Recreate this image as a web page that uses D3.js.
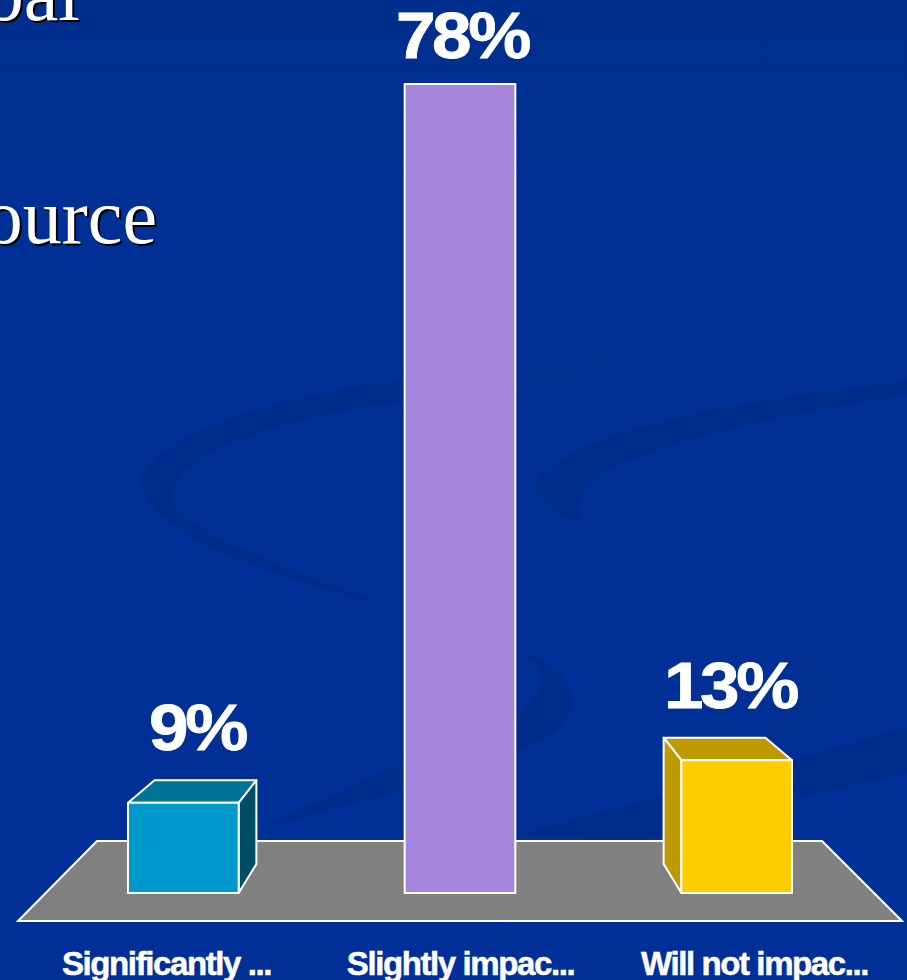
<!DOCTYPE html>
<html>
<head>
<meta charset="utf-8">
<script src="https://cdn.jsdelivr.net/npm/d3@7"></script>
<style>
  html, body { margin: 0; padding: 0; background: #00309a; overflow: hidden; }
  svg { display: block; }
  text { font-family: "Liberation Sans", Arial, sans-serif; }
  text.serif { font-family: "Liberation Serif", "Times New Roman", serif; }
</style>
</head>
<body>
<div id="chart"></div>
<script>
// ── Data ─────────────────────────────────────────────────────────
const categories = ['Significantly ...', 'Slightly impac...', 'Will not impac...'];
const values = [8.7, 78, 12.8];
const valueLabels = ['9%', '78%', '13%'];
const labelCenters = [197, 462, 730];
const frontColors = ['#0099cc', '#a686dd', '#ffcc00'];
const topColors = ['#007399', '#a686dd', '#bf9900'];
const sideColors = ['#004d66', '#a686dd', '#bf9900'];
const slideText = [
  { text: 'bal', x: 80, y: 20 },
  { text: 'ource', x: 157, y: 243 },
];

const W = 907, H = 980;
const baseY = 893, topY = 84;

const svg = d3.select('#chart').append('svg').attr('width', W).attr('height', H);

// ── Background ───────────────────────────────────────────────────
const defs = svg.append('defs');
const bg = defs.append('linearGradient').attr('id', 'bg').attr('x1', 0).attr('y1', 0).attr('x2', 0).attr('y2', 1);
bg.append('stop').attr('offset', 0).attr('stop-color', '#002e8c');
bg.append('stop').attr('offset', 0.2).attr('stop-color', '#003096');
bg.append('stop').attr('offset', 1).attr('stop-color', '#003097');
svg.append('rect').attr('width', W).attr('height', H).attr('fill', 'url(#bg)');

const swirls = [
  'M404,380 C300,392 170,425 142,475 C135,520 230,570 404,609 C300,575 190,535 172,501 C165,455 290,415 404,401 Z',
  'M907,380 C780,398 580,420 535,483 C535,500 560,515 584,526 C570,505 582,480 620,465 C690,430 820,410 907,394 Z',
  'M517,651 C560,660 580,690 570,715 C550,750 480,765 404,790 L255,830 L404,762 C460,760 530,720 543,680 C540,665 530,655 517,651 Z',
  'M907,726 C800,760 640,800 517,835 L640,841 C720,815 830,790 907,773 Z',
];
svg.append('g').selectAll('path').data(swirls).join('path')
  .attr('d', d => d)
  .attr('fill', '#002c88')
  .attr('opacity', 0.75);

// fainter shapes further back
const faintSwirls = [
  'M770,630 C815,640 845,665 842,690 C835,715 810,730 790,737 L720,750 C770,725 800,700 790,670 C780,650 770,640 770,630 Z',
  'M641,326 C600,345 550,370 517,384 L517,395 C570,385 620,360 641,326 Z',
];
svg.append('g').selectAll('path').data(faintSwirls).join('path')
  .attr('d', d => d)
  .attr('fill', '#002c88')
  .attr('opacity', 0.3);

// ── Slide text behind the chart ──────────────────────────────────
const slide = svg.append('g')
  .attr('font-size', 78)
  .attr('text-anchor', 'end');
slide.selectAll('.shadow').data(slideText).join('text')
  .attr('class', 'serif shadow')
  .attr('x', d => d.x + 2).attr('y', d => d.y + 2)
  .attr('fill', '#000')
  .text(d => d.text);
slide.selectAll('.front').data(slideText).join('text')
  .attr('class', 'serif front')
  .attr('x', d => d.x).attr('y', d => d.y)
  .attr('fill', '#fff')
  .text(d => d.text);

// ── Scales ───────────────────────────────────────────────────────
const x = d3.scaleBand().domain(categories).range([128, 792]).paddingInner(0.6);
const y = d3.scaleLinear().domain([0, 78]).range([baseY, topY]);
const labelX = d3.scalePoint().domain(categories).range([166, 754]);

// ── Floor ────────────────────────────────────────────────────────
const floor = [[18, 921], [902, 921], [822, 841], [97, 841]];
svg.append('polygon')
  .attr('points', floor.join(' '))
  .attr('fill', '#808080')
  .attr('stroke', '#fff')
  .attr('stroke-width', 2);

// ── Bars ─────────────────────────────────────────────────────────
// back corners pull in toward the middle bar and up the floor
const vanishX = 460, depth = 0.08;
const back = ([px, py]) => [px + (vanishX - px) * depth, py - (py === baseY ? 29 : 22.5)];

const bars = categories.map((c, i) => {
  const x0 = x(c), x1 = x0 + x.bandwidth(), y0 = y(values[i]);
  return { c, i, x0, x1, y0, y1: baseY };
});

const barG = svg.append('g')
  .selectAll('g').data(bars).join('g')
  .attr('stroke', '#fff')
  .attr('stroke-width', 2)
  .attr('stroke-linejoin', 'round');

// flat middle bar has no visible depth
const hasDepth = d => d.i !== 1;

barG.filter(hasDepth).append('polygon')
  .attr('fill', d => topColors[d.i])
  .attr('points', d => [[d.x0, d.y0], [d.x1, d.y0], back([d.x1, d.y0]), back([d.x0, d.y0])].join(' '));

barG.filter(hasDepth).append('polygon')
  .attr('fill', d => sideColors[d.i])
  .attr('points', d => {
    const ex = d.i === 0 ? d.x1 : d.x0;
    return [[ex, d.y0], [ex, d.y1], back([ex, d.y1]), back([ex, d.y0])].join(' ');
  });

barG.append('rect')
  .attr('x', d => d.x0)
  .attr('y', d => d.y0)
  .attr('width', x.bandwidth())
  .attr('height', d => d.y1 - d.y0)
  .attr('fill', d => frontColors[d.i]);

// ── Value labels ─────────────────────────────────────────────────
svg.append('g').selectAll('text').data(bars).join('text')
  .attr('transform', d => {
    const ly = d.i === 1 ? d.y0 - 26 : back([d.x0, d.y0])[1] - 30;
    return `translate(${labelCenters[d.i]},${ly}) scale(1.11,1)`;
  })
  .attr('text-anchor', 'middle')
  .attr('fill', '#fff')
  .attr('stroke', '#fff')
  .attr('stroke-width', 0.8)
  .attr('font-size', 64)
  .attr('font-weight', 700)
  .attr('letter-spacing', -3)
  .text(d => valueLabels[d.i]);

// ── Category axis ────────────────────────────────────────────────
const axis = svg.append('g')
  .attr('transform', 'translate(0,950)')
  .call(d3.axisBottom(labelX).tickSize(0).tickPadding(0));
axis.select('.domain').remove();
axis.selectAll('text')
  .attr('fill', '#fff')
  .attr('stroke', '#fff')
  .attr('stroke-width', 0.5)
  .attr('font-size', 33)
  .attr('font-weight', 700)
  .attr('letter-spacing', -1.4)
  .attr('dy', 0)
  .attr('y', 25)
  .style('font-family', '"Liberation Sans", Arial, sans-serif');
</script>
</body>
</html>
